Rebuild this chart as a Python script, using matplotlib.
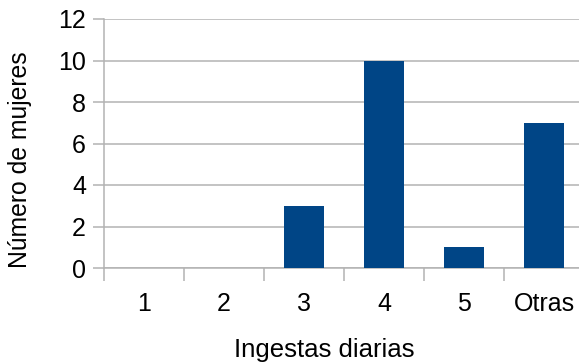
import numpy as np
import matplotlib.pyplot as plt

plt.rcParams['font.family'] = ['Liberation Sans', 'DejaVu Sans']

categorias = ['1', '2', '3', '4', '5', 'Otras']
mujeres = [0, 0, 3, 10, 1, 7]
yticks = [0, 2, 4, 6, 8, 10, 12]

gris = '#b3b3b3'
azul = '#004586'

fig = plt.figure(figsize=(5.79, 3.62), dpi=100)
ax = fig.add_axes([104/579, 94/362, 480/579, 249/362])

x = np.arange(len(categorias))
ax.bar(x, mujeres, width=0.51, color=azul, zorder=3)

ax.set_xlim(-0.5, len(categorias) - 0.5)
ax.set_ylim(0, 12)
ax.set_yticks(yticks)
ax.yaxis.grid(True, color=gris, linewidth=1.1, zorder=0)

ax.set_xticks(x)
ax.set_xticklabels(categorias)
ax.set_xticks(np.arange(len(categorias) + 1) - 0.5, minor=True)
ax.tick_params(axis='x', which='major', length=0, pad=17, labelsize=18)
ax.tick_params(axis='x', which='minor', length=9, color=gris, width=1.1)
ax.tick_params(axis='y', length=8, color=gris, width=1.1, pad=5, labelsize=18)

for s in ['top', 'right']:
    ax.spines[s].set_visible(False)
for s in ['left', 'bottom']:
    ax.spines[s].set_color(gris)
    ax.spines[s].set_linewidth(1.1)

ax.set_xlabel('Ingestas diarias', fontsize=18.5)
ax.xaxis.set_label_coords(0.459, -0.281)
ax.set_ylabel('Número de mujeres', fontsize=17.8)
ax.yaxis.set_label_coords(-0.15, 0.434)

fig.savefig('out.png', dpi=100)
